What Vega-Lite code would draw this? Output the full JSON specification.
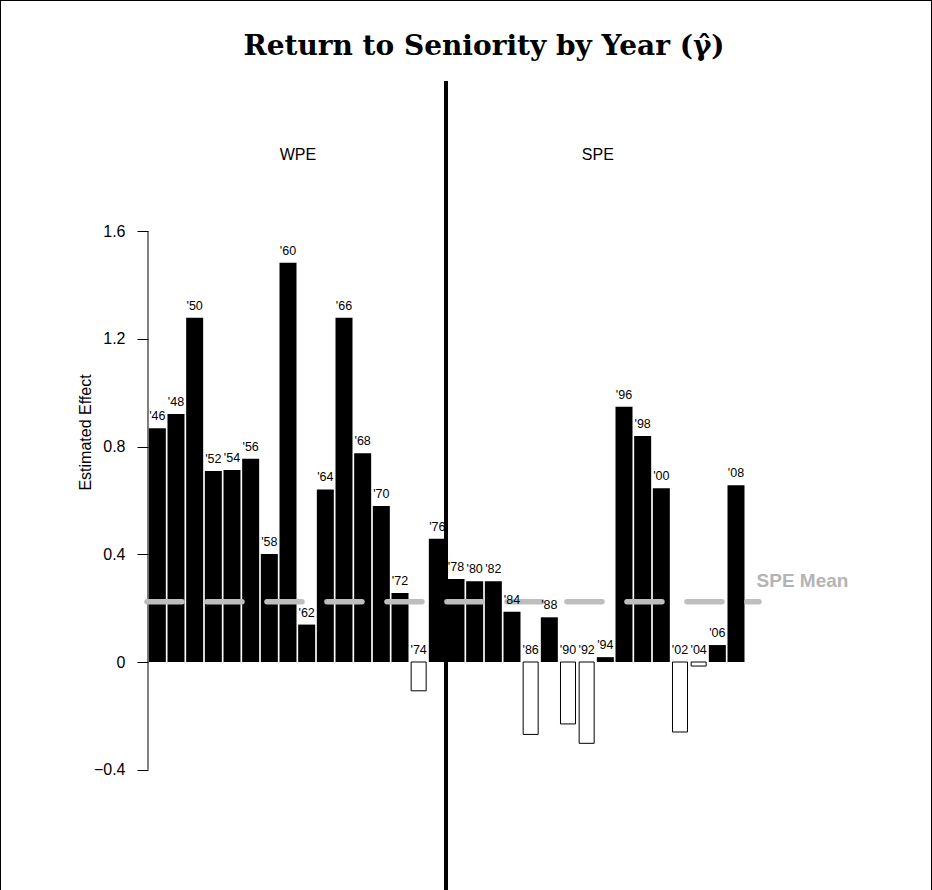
{
  "$schema": "https://vega.github.io/schema/vega-lite/v6.json",
  "width": 932,
  "height": 890,
  "autosize": {"type": "none"},
  "padding": 0,
  "background": "white",
  "config": {"view": {"stroke": null}, "font": "Liberation Sans"},
  "title": {"text": "Return to Seniority by Year (γ̂)", "font": "DejaVu Serif", "fontSize": 28, "fontWeight": "bold", "color": "black", "anchor": "middle", "offset": -84, "baseline": "alphabetic", "dx": 18},
  "data": {"values": [
    {"year": 1946, "lab": "'46", "value": 0.868},
    {"year": 1948, "lab": "'48", "value": 0.921},
    {"year": 1950, "lab": "'50", "value": 1.279},
    {"year": 1952, "lab": "'52", "value": 0.709},
    {"year": 1954, "lab": "'54", "value": 0.713},
    {"year": 1956, "lab": "'56", "value": 0.755},
    {"year": 1958, "lab": "'58", "value": 0.401},
    {"year": 1960, "lab": "'60", "value": 1.483},
    {"year": 1962, "lab": "'62", "value": 0.139},
    {"year": 1964, "lab": "'64", "value": 0.641},
    {"year": 1966, "lab": "'66", "value": 1.279},
    {"year": 1968, "lab": "'68", "value": 0.775},
    {"year": 1970, "lab": "'70", "value": 0.579},
    {"year": 1972, "lab": "'72", "value": 0.256},
    {"year": 1974, "lab": "'74", "value": -0.107},
    {"year": 1976, "lab": "'76", "value": 0.458},
    {"year": 1978, "lab": "'78", "value": 0.308},
    {"year": 1980, "lab": "'80", "value": 0.300},
    {"year": 1982, "lab": "'82", "value": 0.300},
    {"year": 1984, "lab": "'84", "value": 0.187},
    {"year": 1986, "lab": "'86", "value": -0.269},
    {"year": 1988, "lab": "'88", "value": 0.166},
    {"year": 1990, "lab": "'90", "value": -0.230},
    {"year": 1992, "lab": "'92", "value": -0.302},
    {"year": 1994, "lab": "'94", "value": 0.018},
    {"year": 1996, "lab": "'96", "value": 0.948},
    {"year": 1998, "lab": "'98", "value": 0.839},
    {"year": 2000, "lab": "'00", "value": 0.645},
    {"year": 2002, "lab": "'02", "value": -0.260},
    {"year": 2004, "lab": "'04", "value": -0.015},
    {"year": 2006, "lab": "'06", "value": 0.063},
    {"year": 2008, "lab": "'08", "value": 0.656}
  ]},
  "layer": [
    {
      "transform": [{"filter": "datum.value >= 0"}],
      "mark": {"type": "bar", "width": 17, "color": "black"},
      "encoding": {
        "x": {"field": "year", "type": "quantitative", "scale": {"domain": [1929.143, 2029], "nice": false, "zero": false, "padding": 0}, "axis": null},
        "y": {"field": "value", "type": "quantitative", "scale": {"domain": [-0.8468, 2.4587], "nice": false, "zero": false, "padding": 0},
          "axis": {"values": [-0.4, 0, 0.4, 0.8, 1.2, 1.6], "domain": false, "grid": false, "ticks": true, "tickColor": "black", "tickSize": 11, "tickWidth": 1,
            "labelFont": "Liberation Sans", "labelFontSize": 16, "labelColor": "black", "labelPadding": 12,
            "labelExpr": "datum.value == 0 ? '0' : format(datum.value, '.1f')", "offset": -148,
            "title": "Estimated Effect", "titleFont": "Liberation Sans", "titleFontSize": 16, "titleFontWeight": "normal", "titleColor": "black",
            "titleX": -63, "titleY": 432, "titleAngle": 270, "titleAlign": "center", "titleBaseline": "middle"}},
        "y2": {"datum": 0}
      }
    },
    {
      "transform": [{"filter": "datum.value < 0"}],
      "mark": {"type": "bar", "width": 15, "fill": "white", "stroke": "black", "strokeWidth": 1},
      "encoding": {
        "x": {"field": "year", "type": "quantitative"},
        "y": {"field": "value", "type": "quantitative"},
        "y2": {"datum": 0}
      }
    },
    {
      "data": {"values": [{}]},
      "mark": {"type": "rule", "color": "black", "strokeWidth": 1},
      "encoding": {"x": {"datum": 1945}, "y": {"datum": -0.4}, "y2": {"datum": 1.6}}
    },
    {
      "data": {"values": [{}]},
      "mark": {"type": "rule", "color": "black", "strokeWidth": 4},
      "encoding": {"x": {"datum": 1976.93}, "y": {"datum": 2.158}, "y2": {"datum": -0.85}}
    },
    {
      "data": {"values": [{}]},
      "mark": {"type": "rule", "color": "#bebebe", "strokeWidth": 5.5, "strokeDash": [35, 25], "strokeCap": "round"},
      "encoding": {"x": {"datum": 1944.89}, "x2": {"datum": 2010.46}, "y": {"datum": 0.224}}
    },
    {
      "transform": [{"filter": "datum.value >= 0"}],
      "mark": {"type": "text", "fontSize": 12.5, "baseline": "alphabetic", "dy": -8, "align": "center", "color": "black", "font": "Liberation Sans"},
      "encoding": {"x": {"field": "year", "type": "quantitative"}, "y": {"field": "value", "type": "quantitative"}, "text": {"field": "lab"}}
    },
    {
      "transform": [{"filter": "datum.value < 0"}],
      "mark": {"type": "text", "fontSize": 12.5, "baseline": "alphabetic", "dy": -8, "align": "center", "color": "black", "font": "Liberation Sans"},
      "encoding": {"x": {"field": "year", "type": "quantitative"}, "y": {"datum": 0}, "text": {"field": "lab"}}
    },
    {
      "data": {"values": [{}]},
      "mark": {"type": "text", "fontSize": 16, "baseline": "middle", "align": "center", "color": "black", "font": "Liberation Sans"},
      "encoding": {"x": {"datum": 1961.07}, "y": {"datum": 1.883}, "text": {"value": "WPE"}}
    },
    {
      "data": {"values": [{}]},
      "mark": {"type": "text", "fontSize": 16, "baseline": "middle", "align": "center", "color": "black", "font": "Liberation Sans"},
      "encoding": {"x": {"datum": 1993.2}, "y": {"datum": 1.883}, "text": {"value": "SPE"}}
    },
    {
      "data": {"values": [{}]},
      "mark": {"type": "text", "fontSize": 19, "fontWeight": "bold", "baseline": "middle", "align": "left", "color": "#b4b4b4", "font": "Liberation Sans"},
      "encoding": {"x": {"datum": 2010.2}, "y": {"datum": 0.301}, "text": {"value": "SPE Mean"}}
    },
    {
      "data": {"values": [{}]},
      "mark": {"type": "rule", "color": "black", "strokeWidth": 2},
      "encoding": {"x": {"datum": 1929.143}, "y": {"datum": 2.4587}, "y2": {"datum": -0.8468}}
    },
    {
      "data": {"values": [{}]},
      "mark": {"type": "rule", "color": "black", "strokeWidth": 2},
      "encoding": {"x": {"datum": 2029}, "y": {"datum": 2.4587}, "y2": {"datum": -0.8468}}
    },
    {
      "data": {"values": [{}]},
      "mark": {"type": "rule", "color": "black", "strokeWidth": 2},
      "encoding": {"x": {"datum": 1929.143}, "x2": {"datum": 2029}, "y": {"datum": 2.4587}}
    }
  ]
}
